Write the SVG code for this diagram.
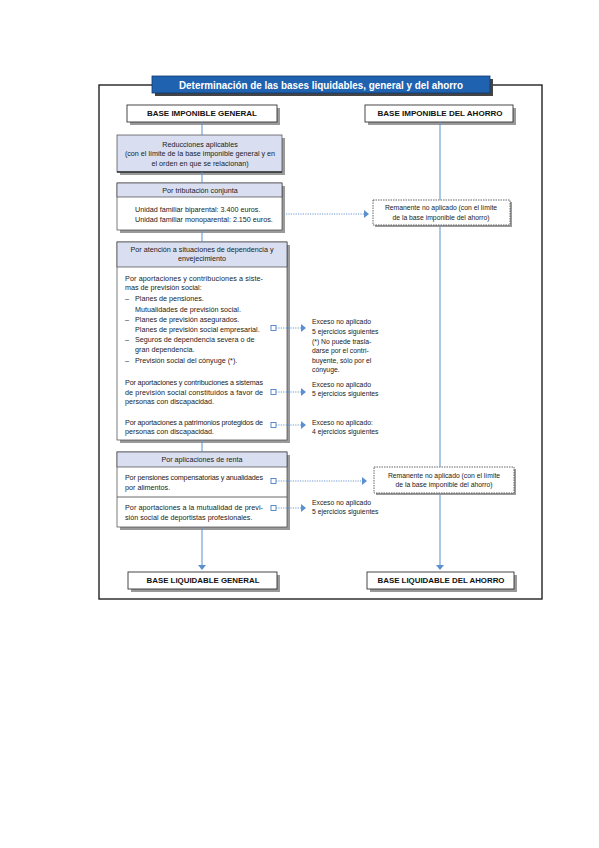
<svg xmlns="http://www.w3.org/2000/svg" width="599" height="848" viewBox="0 0 599 848">
<style>
.frame{fill:none;stroke:#222;stroke-width:1.4}
.sh{fill:#9a9a9a}
.hdr{fill:#fff;stroke:#333;stroke-width:0.9}
.band{fill:#d9dff1;stroke:#444;stroke-width:0.7}
.body{fill:#fff;stroke:#444;stroke-width:0.7}
.rem{fill:#fff;stroke:#555;stroke-width:0.9;stroke-dasharray:1.5 1}
.conn{stroke:#5b8fd0;stroke-width:1;fill:none}
.dot{stroke:#5b8fd0;stroke-width:0.9;stroke-dasharray:1.2 1.2;fill:none}
.ah{fill:#5b8fd0}
.sq{fill:#fff;stroke:#4a7fc4;stroke-width:0.9}
.t{font-family:"Liberation Sans",Arial,sans-serif;font-size:7.2px;fill:#222}
.e{font-family:"Liberation Sans",Arial,sans-serif;font-size:6.8px;fill:#222}
.c{text-anchor:middle}
.hb{font-family:"Liberation Sans",Arial,sans-serif;font-size:7px;font-weight:bold;fill:#111;text-anchor:middle}
.title{font-family:"Liberation Sans",Arial,sans-serif;font-size:10px;font-weight:bold;fill:#fff;text-anchor:middle}
</style>
<rect width="599" height="848" fill="#fff"/>
<rect class="frame" x="99" y="85" width="443" height="514"/>

<g id="title">
<rect x="155" y="79" width="338" height="17" fill="#444"/>
<rect x="152" y="76" width="338" height="17" fill="#1f62b0" stroke="#113a70" stroke-width="0.8"/>
<text class="title" x="321" y="88.5" textLength="284" lengthAdjust="spacingAndGlyphs">Determinación de las bases liquidables, general y del ahorro</text>
</g>

<g id="base-imponible-general">
<rect class="sh" x="130" y="108" width="150" height="17"/>
<rect class="hdr" x="127" y="105" width="150" height="17"/>
<text class="hb" x="202" y="116" textLength="110" lengthAdjust="spacingAndGlyphs">BASE IMPONIBLE GENERAL</text>
</g>
<g id="base-imponible-ahorro">
<rect class="sh" x="368" y="108" width="148" height="17"/>
<rect class="hdr" x="365" y="105" width="148" height="17"/>
<text class="hb" x="440" y="116" textLength="125" lengthAdjust="spacingAndGlyphs">BASE IMPONIBLE DEL AHORRO</text>
</g>

<g id="reducciones">
<rect class="sh" x="120" y="138" width="165" height="37"/>
<rect class="band" x="117" y="135" width="165" height="37"/>
<line x1="117" y1="172" x2="282" y2="172" stroke="#333" stroke-width="1.5"/>
<text class="t c" x="200" y="146.5">Reducciones aplicables</text>
<text class="t c" x="200" y="155.5">(con el límite de la base imponible general y en</text>
<text class="t c" x="200" y="165.5">el orden en que se relacionan)</text>
</g>

<g id="tributacion-conjunta">
<rect class="sh" x="120" y="186" width="165" height="47"/>
<rect class="body" x="117" y="183" width="165" height="47"/>
<rect class="band" x="117" y="183" width="165" height="14"/>
<text class="t c" x="200" y="192.6">Por tributación conjunta</text>
<text class="t" x="135" y="211.5">Unidad familiar biparental: 3.400 euros.</text>
<text class="t" x="135" y="221.5">Unidad familiar monoparental: 2.150 euros.</text>
</g>

<g id="dependencia">
<rect class="sh" x="120" y="245" width="170" height="198"/>
<rect class="body" x="117" y="242" width="170" height="198"/>
<rect class="band" x="117" y="242" width="170" height="25"/>
<text class="t c" x="202" y="251.5">Por atención a situaciones de dependencia y</text>
<text class="t c" x="202" y="260.5">envejecimiento</text>
<text class="t" x="125" y="280.5" textLength="138" lengthAdjust="spacing">Por aportaciones y contribuciones a siste-</text>
<text class="t" x="125" y="289.5">mas de previsión social:</text>
<text class="t" x="125" y="300.5">–</text><text class="t" x="135" y="300.5">Planes de pensiones.</text>
<text class="t" x="135" y="311.5">Mutualidades de previsión social.</text>
<text class="t" x="125" y="321.5">–</text><text class="t" x="135" y="321.5">Planes de previsión asegurados.</text>
<text class="t" x="135" y="331.5">Planes de previsión social empresarial.</text>
<text class="t" x="125" y="341.5">–</text><text class="t" x="135" y="341.5">Seguros de dependencia severa o de</text>
<text class="t" x="135" y="351.5">gran dependencia.</text>
<text class="t" x="125" y="362.5">–</text><text class="t" x="135" y="362.5">Previsión social del cónyuge (*).</text>
<text class="t" x="125" y="384.5" textLength="138" lengthAdjust="spacing">Por aportaciones y contribuciones a sistemas</text>
<text class="t" x="125" y="394.5" textLength="138" lengthAdjust="spacing">de previsión social constituidos a favor de</text>
<text class="t" x="125" y="403.5">personas con discapacidad.</text>
<text class="t" x="125" y="424.5" textLength="138" lengthAdjust="spacing">Por aportaciones a patrimonios protegidos de</text>
<text class="t" x="125" y="433.5">personas con discapacidad.</text>
</g>

<g id="rentas">
<rect class="sh" x="120" y="455" width="170" height="75"/>
<rect class="body" x="117" y="452" width="170" height="75"/>
<rect class="band" x="117" y="452" width="170" height="15"/>
<line x1="117" y1="497" x2="287" y2="497" stroke="#444" stroke-width="0.8"/>
<text class="t c" x="202" y="461.8">Por aplicaciones de renta</text>
<text class="t" x="125" y="479.5" textLength="138" lengthAdjust="spacing">Por pensiones compensatorias y anualidades</text>
<text class="t" x="125" y="489.5">por alimentos.</text>
<text class="t" x="125" y="509.5" textLength="138" lengthAdjust="spacing">Por aportaciones a la mutualidad de previ-</text>
<text class="t" x="125" y="519.5">sión social de deportistas profesionales.</text>
</g>

<g id="exceso-1">
<text class="e" x="312" y="324.3">Exceso no aplicado</text>
<text class="e" x="312" y="334.3">5 ejercicios siguientes</text>
<text class="e" x="312" y="344.3">(*) No puede trasla-</text>
<text class="e" x="312" y="353.3">darse por el contri-</text>
<text class="e" x="312" y="363.3">buyente, sólo por el</text>
<text class="e" x="312" y="372.3">cónyuge.</text>
</g>
<g id="exceso-2">
<text class="e" x="312" y="387.3">Exceso no aplicado</text>
<text class="e" x="312" y="396.3">5 ejercicios siguientes</text>
</g>
<g id="exceso-3">
<text class="e" x="312" y="425.3">Exceso no aplicado:</text>
<text class="e" x="312" y="434.3">4 ejercicios siguientes</text>
</g>
<g id="exceso-4">
<text class="e" x="312" y="505.3">Exceso no aplicado</text>
<text class="e" x="312" y="514.3">5 ejercicios siguientes</text>
</g>

<g id="remanente-1">
<rect class="sh" x="375" y="202" width="137" height="25"/>
<rect class="rem" x="373" y="200" width="137" height="25"/>
<text class="e c" x="441" y="210.3">Remanente no aplicado (con el límite</text>
<text class="e c" x="441" y="220.3">de la base imponible del ahorro)</text>
</g>
<g id="remanente-2">
<rect class="sh" x="376" y="469" width="140" height="26"/>
<rect class="rem" x="374" y="467" width="140" height="26"/>
<text class="e c" x="444" y="478.3">Remanente no aplicado (con el límite</text>
<text class="e c" x="444" y="487.3">de la base imponible del ahorro)</text>
</g>

<g id="base-liquidable-general">
<rect class="sh" x="131" y="575" width="149" height="17"/>
<rect class="hdr" x="128" y="572" width="149" height="17"/>
<text class="hb" x="203" y="583" textLength="113" lengthAdjust="spacingAndGlyphs">BASE LIQUIDABLE GENERAL</text>
</g>
<g id="base-liquidable-ahorro">
<rect class="sh" x="370" y="575" width="147" height="17"/>
<rect class="hdr" x="367" y="572" width="147" height="17"/>
<text class="hb" x="441" y="583" textLength="127" lengthAdjust="spacingAndGlyphs">BASE LIQUIDABLE DEL AHORRO</text>
</g>

<g id="connectors">
<line class="conn" x1="202" y1="122" x2="202" y2="135"/>
<line class="conn" x1="202" y1="172" x2="202" y2="183"/>
<line class="conn" x1="202" y1="230" x2="202" y2="242"/>
<line class="conn" x1="202" y1="440" x2="202" y2="452"/>
<line class="conn" x1="202" y1="527" x2="202" y2="566"/>
<polygon class="ah" points="198,565 206,565 202,570"/>
<line class="conn" x1="440" y1="122" x2="440" y2="200"/>
<line class="conn" x1="440" y1="227" x2="440" y2="467"/>
<line class="conn" x1="440" y1="495" x2="440" y2="566"/>
<polygon class="ah" points="436,565 444,565 440,570"/>
<line class="dot" x1="286" y1="214" x2="365" y2="214"/>
<polygon class="ah" points="364,210 364,218 369,214"/>
<line class="dot" x1="276" y1="328" x2="302" y2="328"/>
<polygon class="ah" points="301,324 301,332 306,328"/>
<line class="dot" x1="276" y1="392" x2="302" y2="392"/>
<polygon class="ah" points="301,388 301,396 306,392"/>
<line class="dot" x1="276" y1="425" x2="302" y2="425"/>
<polygon class="ah" points="301,421 301,429 306,425"/>
<line class="dot" x1="276" y1="481" x2="363" y2="481"/>
<polygon class="ah" points="362,477 362,485 367,481"/>
<line class="dot" x1="276" y1="508" x2="302" y2="508"/>
<polygon class="ah" points="301,504 301,512 306,508"/>
<rect class="sq" x="271" y="325.5" width="5" height="5"/>
<rect class="sq" x="271" y="389.5" width="5" height="5"/>
<rect class="sq" x="271" y="422.5" width="5" height="5"/>
<rect class="sq" x="271" y="478.5" width="5" height="5"/>
<rect class="sq" x="271" y="505.5" width="5" height="5"/>
</g>
</svg>
